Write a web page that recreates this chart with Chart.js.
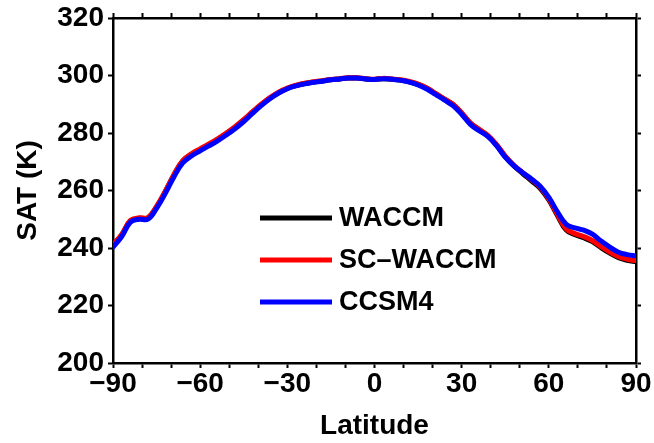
<!DOCTYPE html>
<html>
<head>
<meta charset="utf-8">
<script src="https://cdn.jsdelivr.net/npm/chart.js@4.4.0/dist/chart.umd.min.js"></script>
<style>
  html, body { margin: 0; padding: 0; background: #fff; }
</style>
</head>
<body>
<canvas id="chart" width="654" height="443"></canvas>
<script>
// --- Data ---
const latitudes = [-90, -87, -84, -81, -78, -75, -72, -69, -66, -63, -60, -57, -54, -51, -48, -45, -42, -39, -36, -33,
  -30, -27, -24, -21, -18, -15, -12, -9, -6, -3, 0, 3, 6, 9, 12, 15, 18, 21, 24, 27,
  30, 33, 36, 39, 42, 45, 48, 51, 54, 57, 60, 63, 66, 69, 72, 75, 78, 81, 84, 87, 90];

const ccsm4 = [240.3, 244.0, 249.0, 250.0, 250.0, 253.8, 259.0, 264.8, 269.6, 272.0, 273.8, 275.5, 277.3, 279.3, 281.5, 284.0, 286.8, 289.5, 291.9, 293.9,
  295.4, 296.4, 297.1, 297.6, 298.0, 298.5, 298.8, 299.1, 299.1, 298.8, 298.6, 298.9, 298.7, 298.3, 297.7, 296.7, 295.3, 293.4, 291.5, 289.5,
  286.5, 283.0, 280.8, 278.8, 275.6, 271.6, 268.6, 266.2, 264.0, 261.5, 257.6, 252.5, 248.2, 247.0, 246.2, 244.8, 242.4, 240.3, 238.5, 237.7, 237.3];

const scWaccm = [241.2, 244.7, 249.6, 250.5, 250.6, 254.5, 259.8, 265.6, 270.4, 272.8, 274.5, 276.2, 278.0, 280.0, 282.2, 284.7, 287.4, 290.0, 292.3, 294.2,
  295.6, 296.6, 297.3, 297.8, 298.2, 298.6, 298.9, 299.2, 299.2, 298.9, 298.7, 299.0, 298.8, 298.5, 297.9, 297.0, 295.7, 293.8, 291.9, 290.0,
  287.0, 283.5, 281.3, 279.2, 276.0, 272.0, 268.8, 266.2, 263.8, 261.2, 257.1, 251.6, 246.6, 245.0, 244.0, 242.6, 240.5, 238.6, 237.0, 236.1, 235.6];

const waccm = [241.0, 244.5, 249.4, 250.3, 250.4, 254.3, 259.6, 265.4, 270.2, 272.6, 274.3, 276.0, 277.8, 279.8, 282.0, 284.5, 287.2, 289.8, 292.1, 294.0,
  295.5, 296.5, 297.2, 297.7, 298.1, 298.5, 298.8, 299.1, 299.1, 298.8, 298.6, 298.9, 298.7, 298.4, 297.8, 296.9, 295.6, 293.7, 291.8, 289.9,
  286.9, 283.4, 281.2, 279.0, 275.8, 271.8, 268.5, 265.9, 263.4, 260.8, 256.7, 251.2, 246.2, 244.6, 243.6, 242.2, 240.1, 238.2, 236.6, 235.7, 235.2];

const seriesNames = ['WACCM', 'SC\u2013WACCM', 'CCSM4'];
const seriesColors = ['#000000', '#ff0000', '#0000ff'];
const xTickLabels = [-90, -60, -30, 0, 30, 60, 90];
const yTickLabels = [200, 220, 240, 260, 280, 300, 320];

const FONT = "'Liberation Sans', Arial, Helvetica, sans-serif";

function toPoints(values) {
  return latitudes.map((lat, i) => ({ x: lat, y: values[i] }));
}

function signed(v) {
  return v < 0 ? '\u2212' + Math.abs(v) : String(v);
}

// legend drawn inside the plot, lines + bold names
const insideLegend = {
  id: 'insideLegend',
  afterDraw(chart) {
    const ctx = chart.ctx;
    ctx.save();
    ctx.font = 'bold 27px ' + FONT;
    ctx.textBaseline = 'middle';
    ctx.textAlign = 'left';
    chart.data.datasets.forEach((ds, i) => {
      const y = 218 + i * 42;
      ctx.strokeStyle = ds.borderColor;
      ctx.lineWidth = 5;
      ctx.beginPath();
      ctx.moveTo(260, y);
      ctx.lineTo(332, y);
      ctx.stroke();
      ctx.fillStyle = '#000';
      ctx.fillText(ds.label, 339, y + 1);
    });
    ctx.restore();
  }
};

const tickGrid = {
  drawOnChartArea: false,
  drawTicks: true,
  tickLength: 5,
  tickWidth: 2,
  tickColor: '#000'
};
const frame = { display: true, color: '#000', width: 2.5 };
const tickFont = { family: FONT, size: 28, weight: 'bold', lineHeight: 1 };

new Chart(document.getElementById('chart'), {
  type: 'line',
  data: {
    // WACCM underneath, CCSM4 on top
    datasets: [waccm, scWaccm, ccsm4].map((vals, i) => ({
      label: seriesNames[i],
      data: toPoints(vals),
      order: 2 - i,
      borderColor: seriesColors[i],
      borderWidth: 5,
      pointRadius: 0,
      tension: 0.4,
      fill: false,
      borderCapStyle: 'round',
      borderJoinStyle: 'round'
    }))
  },
  options: {
    responsive: false,
    animation: false,
    devicePixelRatio: 1,
    layout: { padding: 0 },
    plugins: { legend: { display: false }, tooltip: { enabled: false } },
    scales: {
      x: {
        type: 'linear', position: 'bottom', min: -90, max: 90,
        ticks: {
          stepSize: 10, autoSkip: false, maxRotation: 0, padding: 2,
          color: '#000', font: tickFont,
          callback: v => xTickLabels.includes(v) ? signed(v) : ''
        },
        grid: tickGrid, border: frame,
        title: { display: true, text: 'Latitude', color: '#000',
          font: { family: FONT, size: 28, weight: 'bold', lineHeight: 1 }, padding: { top: 0, bottom: 3 } },
        afterFit: s => { s.height = 80; }
      },
      x2: {
        type: 'linear', position: 'top', min: -90, max: 90,
        ticks: { stepSize: 10, display: false },
        grid: tickGrid, border: frame,
        afterFit: s => { s.height = 17.5; }
      },
      y: {
        type: 'linear', position: 'left', min: 200, max: 320,
        ticks: {
          stepSize: 20, padding: 4, color: '#000', font: tickFont,
          callback: v => yTickLabels.includes(v) ? String(v) : ''
        },
        grid: tickGrid, border: frame,
        title: { display: true, text: 'SAT (K)', color: '#000',
          font: { family: FONT, size: 28, weight: 'bold', lineHeight: 1 }, padding: { top: 14, bottom: 0 } },
        afterFit: s => { s.width = 113; }
      },
      y2: {
        type: 'linear', position: 'right', min: 200, max: 320,
        ticks: { stepSize: 20, display: false },
        grid: tickGrid, border: frame,
        afterFit: s => { s.width = 18; }
      }
    }
  },
  plugins: [insideLegend]
});
</script>
</body>
</html>
